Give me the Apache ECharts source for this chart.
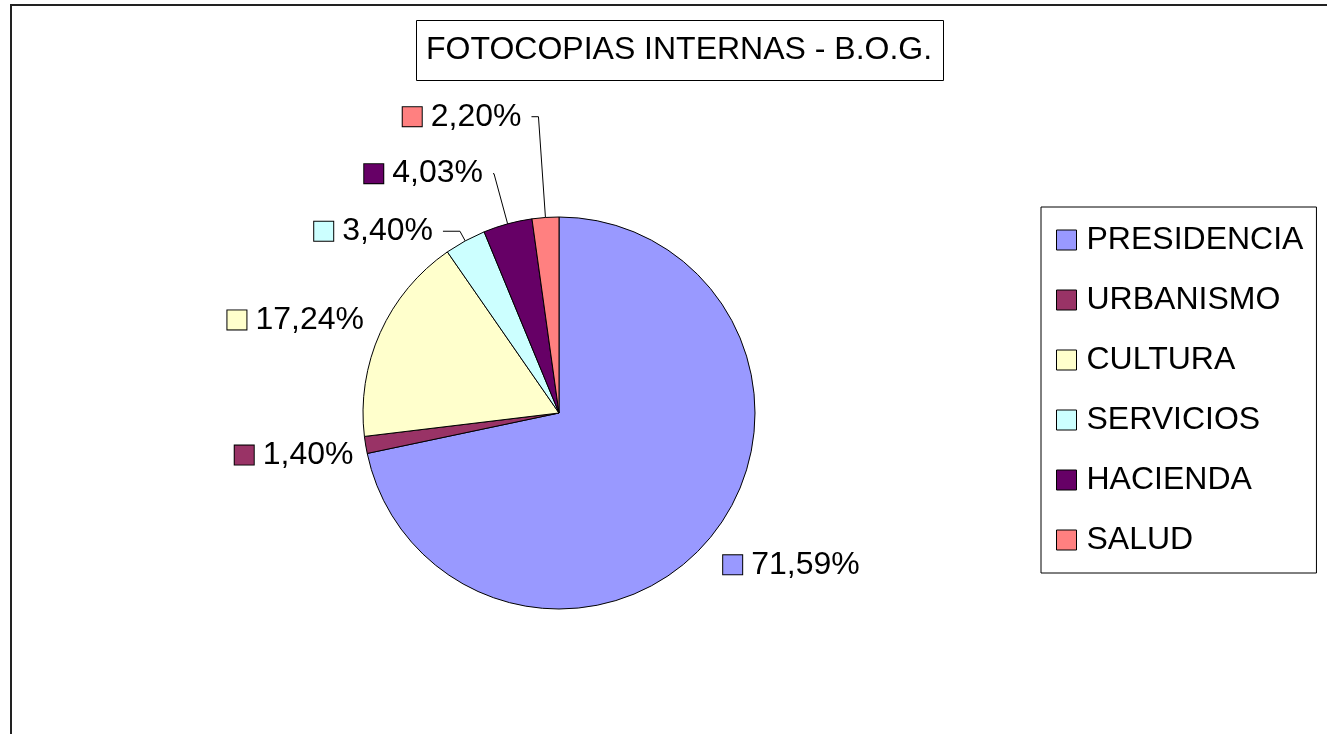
<!DOCTYPE html>
<html>
<head>
<meta charset="utf-8">
<title>FOTOCOPIAS INTERNAS - B.O.G.</title>
<script src="https://cdn.jsdelivr.net/npm/echarts@6.0.0/dist/echarts.min.js"></script>
<style>
  html, body { margin: 0; padding: 0; background: #fff; }
  #chart { width: 1327px; height: 734px; }
</style>
</head>
<body>
<div id="chart"></div>
<script>
// Chart data
const title = 'FOTOCOPIAS INTERNAS - B.O.G.';
const categories = ['PRESIDENCIA', 'URBANISMO', 'CULTURA', 'SERVICIOS', 'HACIENDA', 'SALUD'];
const percentages = [71.59, 1.40, 17.24, 3.40, 4.03, 2.20];

// Styling (Excel default palette)
const colors = ['#9999FF', '#993366', '#FFFFCC', '#CCFFFF', '#660066', '#FF8080'];
// label line lengths per slice, tuned so the labels sit like the original
const lineLength = [45, 62, 31, 11, 52, 101];
const lineLength2 = [-33, -59, -22, 17, 1, 7];
const showLine = [false, false, false, true, true, true];

const FONT = '"Liberation Sans", Arial, sans-serif';

const fmt = v => v.toFixed(2).replace('.', ',') + '%';

const chart = echarts.init(document.getElementById('chart'));

const seriesData = categories.map((name, i) => ({
  name: name,
  value: percentages[i],
  itemStyle: { color: colors[i] },
  label: {
    rich: {
      sq: {
        width: 19,
        height: 19,
        backgroundColor: colors[i],
        borderColor: '#000',
        borderWidth: 1
      },
      t: {
        fontSize: 32,
        fontFamily: FONT,
        color: '#000',
        padding: [0, 0, 0, 9]
      }
    }
  },
  labelLine: {
    show: showLine[i],
    length: lineLength[i],
    length2: lineLength2[i]
  }
}));

const option = {
  backgroundColor: '#fff',
  animation: false,
  graphic: [
    {
      // outer chart area frame, runs off the right and bottom edges
      type: 'rect',
      shape: { x: 11, y: 5, width: 1500, height: 900 },
      style: { fill: 'none', stroke: '#222', lineWidth: 2 },
      silent: true
    }
  ],
  title: {
    text: title,
    left: 416,
    top: 20,
    padding: [14, 12, 15, 10],
    borderColor: '#000',
    borderWidth: 1,
    textStyle: {
      fontSize: 32,
      fontWeight: 'normal',
      fontFamily: FONT,
      color: '#000',
      lineHeight: 32
    }
  },
  legend: {
    orient: 'vertical',
    left: 1041,
    top: 207,
    padding: [17, 13, 17, 15],
    borderColor: '#000',
    borderWidth: 1,
    itemWidth: 20,
    itemHeight: 20,
    itemGap: 28,
    icon: 'rect',
    selectedMode: false,
    itemStyle: { borderColor: '#000', borderWidth: 1 },
    textStyle: {
      fontSize: 32,
      fontFamily: FONT,
      color: '#000',
      lineHeight: 32,
      padding: [0, 0, 0, 5]
    },
    data: categories
  },
  series: [
    {
      type: 'pie',
      center: [559, 413],
      radius: 196,
      startAngle: 90,
      clockwise: true,
      avoidLabelOverlap: false,
      emphasis: { disabled: true },
      itemStyle: { borderColor: '#000', borderWidth: 1 },
      label: {
        show: true,
        position: 'outside',
        distanceToLabelLine: 10,
        formatter: p => '{sq|}{t|' + fmt(p.value) + '}'
      },
      labelLine: {
        lineStyle: { color: '#000', width: 1 }
      },
      data: seriesData
    }
  ]
};

chart.setOption(option);
</script>
</body>
</html>
